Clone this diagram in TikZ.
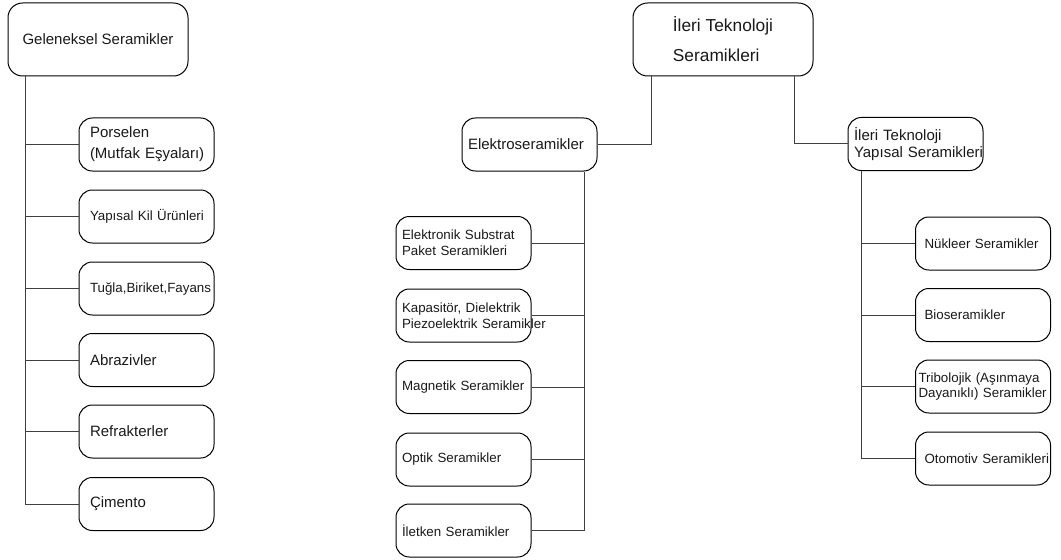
\documentclass[tikz,border=0pt]{standalone}
\usepackage{fontspec}
\setmainfont{Liberation Sans}
\definecolor{line-gray}{gray}{0.25}

\begin{document}
\begin{tikzpicture}[x=0.75pt, y=-0.75pt,
        kutu/.style={draw=black, line width=0.75pt, rounded corners=10pt,
                minimum height=39.75pt, inner ysep=0pt, align=left,
                text=black!90, font=\fontsize{10}{11.75}\selectfont},
        buyuk/.style={font=\fontsize{11.25}{16}\selectfont},
        ana/.style={draw=black, line width=0.75pt, rounded corners=11pt,
                minimum width=135pt, minimum height=54.75pt, align=left,
                text=black!90, font=\fontsize{11.25}{16}\selectfont},
        sol/.style={kutu, text width=84.75pt, inner xsep=8.25pt},
        orta/.style={kutu, text width=92.25pt, inner xsep=4.5pt},
        sag/.style={kutu, text width=87.75pt, inner xsep=6.75pt},
        bag/.style={draw=line-gray, line width=0.75pt}]
        \useasboundingbox (0, 0) rectangle (1061, 560);
        % Geleneksel box
        \node [ana] (gel) at (98, 39.5) {Geleneksel Seramikler};
        % Geleneksel children
        \node [sol, buyuk, font=\fontsize{11.25}{15.75}\selectfont] (porselen) at (146.5, 144.5)
                {Porselen\\\mbox{(Mutfak Eşyaları)}};
        \node [sol] (yapikil) at (146.5, 216.5) {\mbox{Yapısal Kil Ürünleri}};
        \node [sol] (tugla) at (146.5, 288.5) {\mbox{Tuğla,Biriket,Fayans}};
        \node [sol, buyuk] (abraziv) at (146.5, 360) {Abrazivler};
        \node [sol, buyuk] (refrakter) at (146.5, 431.5) {Refrakterler};
        \node [sol, buyuk] (cimento) at (146.5, 504) {Çimento};
        % Geleneksel trunk
        \coordinate (solkok) at ([xshift=13.5pt]gel.south west);
        \draw [bag] (solkok) |- (cimento.west);
        \draw [bag] (porselen.west) -- (porselen.west -| solkok);
        \draw [bag] (yapikil.west) -- (yapikil.west -| solkok);
        \draw [bag] (tugla.west) -- (tugla.west -| solkok);
        \draw [bag] (abraziv.west) -- (abraziv.west -| solkok);
        \draw [bag] (refrakter.west) -- (refrakter.west -| solkok);

        % Ileri Teknoloji box
        \node [ana, font=\fontsize{13}{22.5}\selectfont] (ileri) at (723, 39.5)
                {İleri Teknoloji\\Seramikleri};
        % Elektroseramikler box
        \node [orta, buyuk] (elektro) at (529.5, 144.5) {Elektroseramikler};
        % Ileri Teknoloji Yapisal box
        \node [orta, buyuk, font=\fontsize{11.25}{12.75}\selectfont] (ileriyap) at (915.5, 144)
                {İleri Teknoloji\\\mbox{Yapısal Seramikleri}};
        % Ileri to its two children
        \draw [bag] ([xshift=14.25pt]ileri.south west) |- (elektro.east);
        \draw [bag] ([xshift=-14.25pt]ileri.south east) |- (ileriyap.west);

        % Elektroseramikler children
        \node [orta] (substrat) at (463.5, 243) {Elektronik Substrat\\Paket Seramikleri};
        \node [orta] (kapasitor) at (463.5, 315.5)
                {Kapasitör, Dielektrik\\\mbox{Piezoelektrik Seramikler}};
        \node [orta] (magnetik) at (463.5, 387) {\mbox{Magnetik Seramikler}};
        \node [orta] (optik) at (463.5, 459.5) {Optik Seramikler};
        \node [orta] (iletken) at (463.5, 530.5) {İletken Seramikler};
        % Elektroseramikler trunk
        \coordinate (ortakok) at ([xshift=-9.75pt]elektro.south east);
        \draw [bag] (ortakok) |- (iletken.east);
        \draw [bag] (substrat.east) -- (substrat.east -| ortakok);
        \draw [bag] (kapasitor.east) -- (kapasitor.east -| ortakok);
        \draw [bag] (magnetik.east) -- (magnetik.east -| ortakok);
        \draw [bag] (optik.east) -- (optik.east -| ortakok);

        % Yapisal children
        \node [sag] (nukleer) at (983, 243.5) {Nükleer Seramikler};
        \node [sag] (bio) at (983, 315) {Bioseramikler};
        \node [sag, inner xsep=2.25pt, text width=96.75pt] (triboloji) at (983, 386.5)
                {\mbox{Tribolojik (Aşınmaya}\\\mbox{Dayanıklı) Seramikler}};
        \node [sag] (otomotiv) at (983, 458.5) {\mbox{Otomotiv Seramikleri}};
        % Yapisal trunk
        \coordinate (sagkok) at ([xshift=10.5pt]ileriyap.south west);
        \draw [bag] (sagkok) |- (otomotiv.west);
        \draw [bag] (nukleer.west) -- (nukleer.west -| sagkok);
        \draw [bag] (bio.west) -- (bio.west -| sagkok);
        \draw [bag] (triboloji.west) -- (triboloji.west -| sagkok);
\end{tikzpicture}
\end{document}
